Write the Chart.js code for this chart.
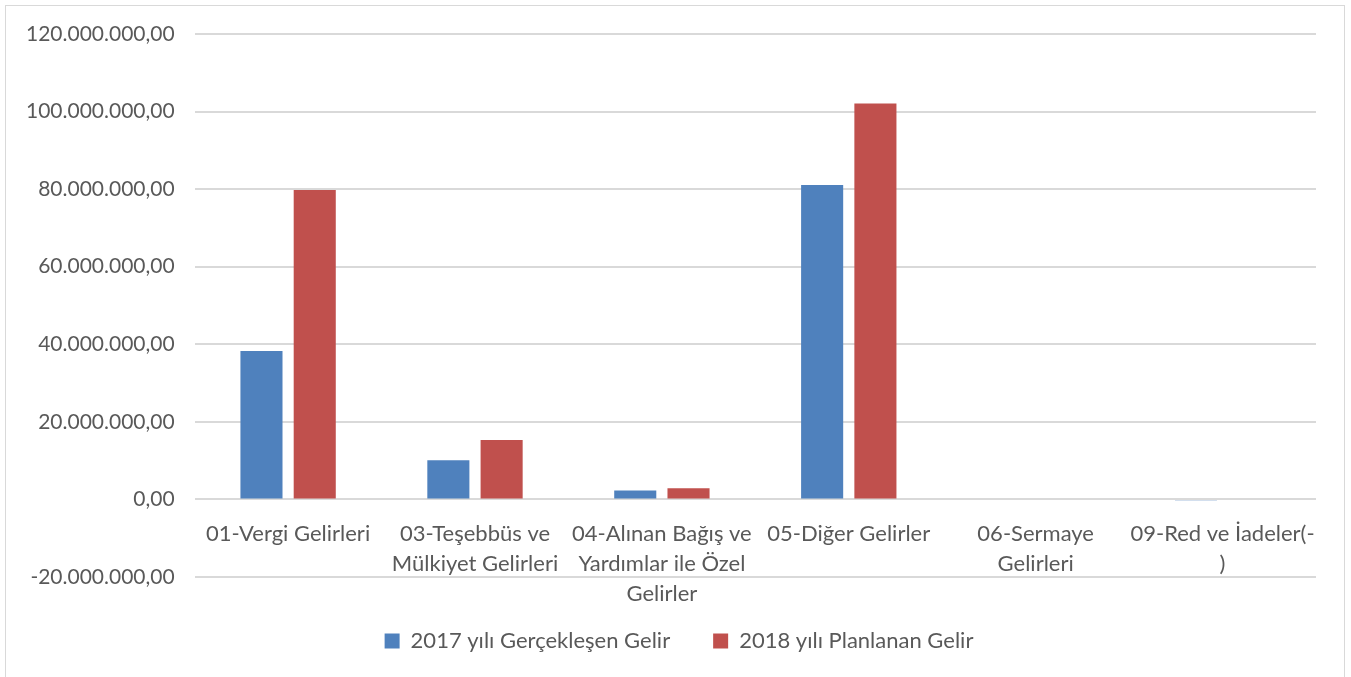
<!DOCTYPE html>
<html>
<head>
<meta charset="utf-8">
<script src="https://cdn.jsdelivr.net/npm/chart.js@4"></script>
<style>
  html, body { margin: 0; padding: 0; background: #fff; }
  #wrap { position: absolute; left: 5px; top: 5px; width: 1340px; height: 680px; border: 1.5px solid #d9d9d9; box-sizing: border-box; }
</style>
</head>
<body>
<div id="wrap"><canvas id="gelirChart"></canvas></div>
<script>
// kategoriler
const categories = [
  "01-Vergi Gelirleri",
  ["03-Teşebbüs ve", "Mülkiyet Gelirleri"],
  ["04-Alınan Bağış ve", "Yardımlar ile Özel", "Gelirler"],
  "05-Diğer Gelirler",
  ["06-Sermaye", "Gelirleri"],
  ["09-Red ve İadeler(-", ")"]
];
// seriler
const gelir2017 = [38300000, 10100000, 2300000, 81100000, 0, -350000];
const gelir2018 = [79800000, 15300000, 2850000, 102100000, 0, 0];
const seriesNames = ["2017 yılı Gerçekleşen Gelir", "2018 yılı Planlanan Gelir"];
// eksen
const yMin = -20000000, yMax = 120000000, yStep = 20000000;

// 120.000.000,00 biçimi
function trFormat(v) {
  const neg = v < 0;
  const s = Math.abs(Math.round(v)).toString().replace(/\B(?=(\d{3})+(?!\d))/g, ".");
  return (neg ? "-" : "") + s + ",00";
}

// lejantı biraz sağa kaydır (Excel'deki gibi)
const legendShift = {
  id: 'legendShift',
  afterLayout(chart) {
    if (chart.legend) chart.legend.left += 16;
  }
};

Chart.defaults.font.family = "Lato, 'Open Sans', sans-serif";
Chart.defaults.font.size = 21;
Chart.defaults.color = "#595959";

const ctx = document.getElementById('gelirChart').getContext('2d');
new Chart(ctx, {
  type: 'bar',
  data: {
    labels: categories,
    datasets: [
      { label: seriesNames[0], data: gelir2017, backgroundColor: '#4F81BD' },
      { label: seriesNames[1], data: gelir2018, backgroundColor: '#C0504D' }
    ]
  },
  plugins: [legendShift],
  options: {
    responsive: true,
    maintainAspectRatio: false,
    animation: false,
    categoryPercentage: 0.57,
    barPercentage: 0.79,
    layout: { padding: { left: 20, right: 28, top: 28, bottom: 22 } },
    scales: {
      x: {
        position: { y: 0 },
        grid: { display: false },
        border: { display: false },
        ticks: { maxRotation: 0, autoSkip: false, padding: 12, font: { size: 22, lineHeight: 1.35 } }
      },
      y: {
        min: yMin,
        max: yMax,
        // tick çizgisi görünmez, sadece etiket boşluğu için
        grid: { color: '#d9d9d9', lineWidth: 2, drawTicks: true, tickLength: 20, tickColor: 'rgba(0,0,0,0)' },
        border: { display: false },
        ticks: { stepSize: yStep, padding: 0, callback: v => trFormat(v) }
      }
    },
    plugins: {
      legend: {
        position: 'bottom',
        title: { display: true, text: '', font: { size: 2, lineHeight: 1 }, padding: 4 },
        labels: { boxWidth: 15, boxHeight: 15, padding: 43, font: { size: 22 } }
      },
      tooltip: { enabled: false }
    }
  }
});
</script>
</body>
</html>
